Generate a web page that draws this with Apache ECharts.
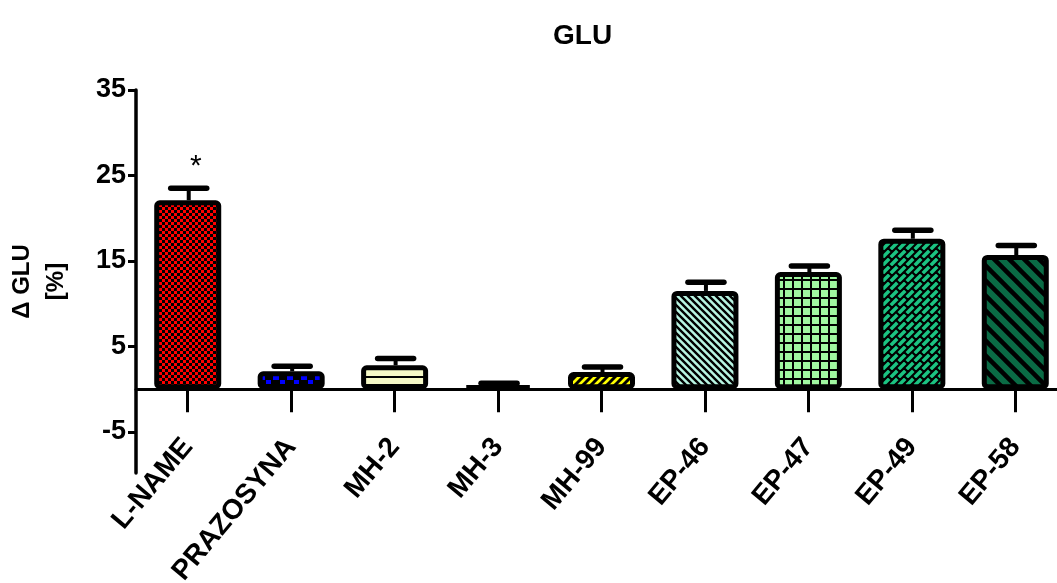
<!DOCTYPE html>
<html>
<head>
<meta charset="utf-8">
<script src="https://cdn.jsdelivr.net/npm/echarts@6/dist/echarts.min.js"></script>
<style>
html,body{margin:0;padding:0;background:#fff;}
#chart{width:1057px;height:583px;}
</style>
</head>
<body>
<div id="chart"></div>
<script>
// ---- data ----
const categories = ['L-NAME', 'PRAZOSYNA', 'MH-2', 'MH-3', 'MH-99', 'EP-46', 'EP-47', 'EP-49', 'EP-58'];
const means      = [22.1, 2.1, 2.8, 0.4, 2.0, 11.5, 13.7, 17.6, 15.7];
const sems       = [1.4, 0.6, 0.8, 0.3, 0.6, 1.0, 0.7, 1.0, 1.1];
const marks      = ['*', '', '', '', '', '', '', '', ''];
const yTicks     = [-5, 5, 15, 25, 35];
const yMin = -9.8, yMax = 35;

// ---- layout ----
const gridTop = 90, gridBottom = 110, chartH = 583;
const gridH = chartH - gridTop - gridBottom;
const zeroOffset = -gridH * (0 - yMin) / (yMax - yMin);

// ---- pattern fills ----
function pat(w, h, bg, draw) {
  const c = document.createElement('canvas');
  c.width = w; c.height = h;
  const g = c.getContext('2d');
  g.fillStyle = bg; g.fillRect(0, 0, w, h);
  g.fillStyle = '#000'; g.strokeStyle = '#000';
  if (draw) draw(g, w, h);
  return { image: c, repeat: 'repeat' };
}
function diag(g, p, lw, dir) {
  g.lineWidth = lw; g.beginPath();
  for (let k = -1; k <= 1; k++) {
    const o = k * p;
    if (dir === '/') { g.moveTo(o - 2, p + 2); g.lineTo(o + p + 2, -2); }
    else { g.moveTo(o - 2, -2); g.lineTo(o + p + 2, p + 2); }
  }
  g.stroke();
}
const fills = [
  pat(6, 6, '#ff0000', g => { g.fillRect(0, 0, 3, 3); g.fillRect(3, 3, 3, 3); }),
  pat(14, 10, '#000000', g => { g.fillStyle = '#0000ff'; g.fillRect(0, 0, 5, 4); g.fillRect(7, 5, 6, 5); }),
  pat(8, 8, '#f5f8c6', g => { g.fillRect(0, 0, 8, 2); }),
  '#000000',
  pat(8, 8, '#ffff00', g => diag(g, 8, 3, '/')),
  pat(7, 7, '#b8f5e2', g => diag(g, 7, 2.4, '\\')),
  pat(9, 9, '#a0f7a0', g => { g.fillRect(0, 0, 9, 2); g.fillRect(0, 0, 2, 9); }),
  pat(16, 16, '#1bc382', g => {
    g.lineWidth = 2.2; g.beginPath();
    for (let s = -16; s <= 40; s += 8) { g.moveTo(s + 2, -2); g.lineTo(-2, s + 2); }
    for (let k = -2; k <= 5; k++) {
      const s0 = 8 * k, s1 = s0 + 8;
      const base = (Math.abs(k) % 2) * 8;
      for (let d = base - 32; d <= 32; d += 16) {
        g.moveTo((s0 + d) / 2, (s0 - d) / 2); g.lineTo((s1 + d) / 2, (s1 - d) / 2);
      }
    }
    g.stroke();
  }),
  pat(15, 15, '#0a6b45', g => diag(g, 15, 4.5, '\\'))
];

const barData = means.map((v, i) => ({ value: v, itemStyle: { color: fills[i] } }));
const errData = means.map((v, i) => [i, v, v + sems[i]]);
const FONT = 'Liberation Sans, Arial, sans-serif';

const chart = echarts.init(document.getElementById('chart'), null, { renderer: 'canvas' });
chart.setOption({
  animation: false,
  backgroundColor: '#ffffff',
  textStyle: { fontFamily: FONT },
  title: {
    text: 'GLU', left: 553, top: 22, padding: 0,
    textStyle: { fontSize: 28, fontWeight: 'bold', color: '#000', fontFamily: FONT }
  },
  grid: { left: 136, right: -10, top: gridTop, bottom: gridBottom, outerBoundsMode: 'none', containLabel: false },
  xAxis: {
    type: 'category',
    data: categories,
    position: 'bottom',
    offset: zeroOffset,
    axisLine: { onZero: false, lineStyle: { color: '#000', width: 3 } },
    axisTick: { show: true, alignWithLabel: true, length: 23, lineStyle: { color: '#000', width: 3 } },
    axisLabel: {
      interval: 0, rotate: 50, margin: 53, color: '#000',
      fontSize: 28, fontWeight: 'bold', fontFamily: FONT
    },
    splitLine: { show: false }
  },
  yAxis: {
    type: 'value', min: yMin, max: yMax,
    name: 'Δ GLU\n[%]',
    nameLocation: 'middle', nameRotate: 90, nameGap: 63,
    nameTextStyle: { fontSize: 24, fontWeight: 'bold', color: '#000', lineHeight: 34, fontFamily: FONT },
    axisLine: { show: true, onZero: false, lineStyle: { color: '#000', width: 3.5 } },
    axisTick: { show: true, length: 8, customValues: yTicks, lineStyle: { color: '#000', width: 3 } },
    axisLabel: { customValues: yTicks, margin: 10, color: '#000', fontSize: 27, fontWeight: 'bold', fontFamily: FONT },
    splitLine: { show: false }
  },
  series: [
    {
      type: 'custom',
      z: 1,
      data: errData,
      encode: { x: 0, y: [1, 2] },
      renderItem: function (params, api) {
        const i = api.value(0);
        const p0 = api.coord([i, api.value(1)]);
        const p1 = api.coord([i, api.value(2)]);
        const mark = marks[params.dataIndex];
        const children = [
          { type: 'line', shape: { x1: p0[0] + 1, y1: p0[1], x2: p1[0] + 1, y2: p1[1] }, style: { stroke: '#000', lineWidth: 4 } },
          { type: 'line', shape: { x1: p1[0] - 17, y1: p1[1], x2: p1[0] + 19, y2: p1[1] }, style: { stroke: '#000', lineWidth: 5.5, lineCap: 'round' } }
        ];
        if (mark) {
          children.push({ type: 'text', style: { text: mark, x: p1[0] + 8, y: p1[1] - 22, align: 'center', verticalAlign: 'middle', fill: '#000', font: '30px Liberation Sans, Arial, sans-serif' } });
        }
        return { type: 'group', children: children };
      }
    },
    {
      type: 'bar',
      z: 2,
      barWidth: 67,
      data: barData,
      itemStyle: { borderColor: '#000', borderWidth: 5, borderRadius: 3 }
    }
  ]
});
</script>
</body>
</html>
